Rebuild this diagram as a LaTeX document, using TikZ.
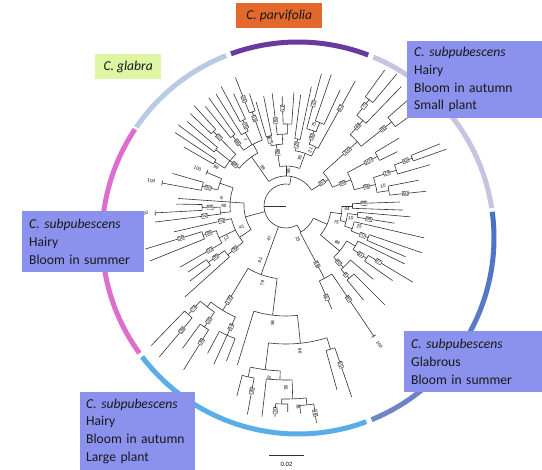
\documentclass[tikz,border=0pt]{standalone}
\usepackage{fontspec}
\setmainfont{Carlito}
\newfontfamily\numfont{Liberation Sans}
\definecolor{boxblue}{RGB}{139,146,238}
\definecolor{boxorange}{RGB}{226,104,44}
\definecolor{boxgreen}{RGB}{222,245,164}
\definecolor{ringpurple}{RGB}{104,58,160}
\definecolor{ringlav}{RGB}{200,196,224}
\definecolor{ringblueA}{RGB}{72,114,198}
\definecolor{ringblueB}{RGB}{112,134,196}
\definecolor{ringsky}{RGB}{90,174,232}
\definecolor{ringpink}{RGB}{222,110,206}
\definecolor{ringgrey}{RGB}{184,202,228}
\newcounter{lc}
\newcommand\tbr[3]{\draw[tree] (#1:#2pt) -- (#1:#3pt);}
\newcommand\tarc[3]{\draw[tree] (#2:#1pt) arc[start angle=#2,end angle=#3,radius=#1pt];}
\newcommand\tbar[2]{\draw[tree] (#1:#2pt) ++(#1+90:2.5pt) -- ++(#1-90:5pt);}
\newcommand\tlab[4][bsb]{\stepcounter{lc}\pgfmathsetmacro\labrot{cos(#2)<0 ? #2+180 : #2}\node[#1,rotate=\labrot] (bs\arabic{lc}) at (#2:#3pt) {#4};}
\newcommand\ringseg[4]{\draw[line width=5pt,color=#4] (#1:#3pt) arc[start angle=#1,end angle=#2,radius=#3pt];}
\tikzset{
  tree/.style={line width=0.6pt,draw=black!80},
  bsb/.style={draw=black!80,line width=0.35pt,fill=white,inner sep=0.5pt,font=\numfont\fontsize{4.6}{4.6}\selectfont},
  bsn/.style={inner sep=0.3pt,font=\numfont\fontsize{4.6}{4.6}\selectfont},
  lbox/.style={anchor=north west,inner xsep=7pt,inner ysep=0pt,align=left,font=\fontsize{13.6}{17.7}\selectfont,text=black!90},
  tbox/.style={anchor=north west,inner sep=0pt,align=center,font=\fontsize{13.6}{17}\selectfont\itshape,text=black!90}
}
\begin{document}
\begin{tikzpicture}[x=1pt,y=1pt]
\fill[white] (0,0) rectangle (542,-470);
\useasboundingbox (0,0) rectangle (542,-470);
% outer ring
\begin{scope}[shift={(298,-238)}]
\coordinate (ringc) at (0,0);
\ringseg{69}{110}{196}{ringpurple}
\ringseg{8.8}{67.4}{196}{ringlav}
\foreach \i in {0,...,14}{
  \pgfmathsetmacro\aa{7.7-\i*5.04}
  \pgfmathsetmacro\ab{\aa-5.1}
  \pgfmathtruncatemacro\pp{100-\i*100/14}
  \ringseg{\aa}{\ab}{196}{ringblueA!\pp!ringblueB}
}
\ringseg{-69.6}{-142.7}{196}{ringsky}
\ringseg{-144}{-213.7}{196}{ringpink}
\ringseg{111.5}{145.6}{196}{ringgrey}
\end{scope}
% tree
\begin{scope}[shift={(286,-206)}]
\coordinate (root) at (0,0);
\tbr{180}{0}{22}
\tarc{22}{80}{300}
% ---- top
\tbr{80}{22}{30}
\tarc{30}{32}{125}
\tlab[bsn]{86}{35}{85}
% upper left group
\tbr{125}{30}{60}
\tlab[bsn]{121}{45}{99}
\tarc{60}{118}{141}
\tbr{118}{60}{70}
\tarc{70}{109.75}{127.25}
\tbr{109.75}{70}{100}\tlab{109.75}{93}{58}
\tarc{100}{108}{111.5}
\tbr{111.5}{100}{138}\tlab{111.5}{115}{24}
\tbr{108}{100}{118}
\tbr{119}{70}{84}\tlab[bsn]{121.5}{78}{7}
\tarc{84}{116.75}{122}
\tbr{122}{84}{132}
\tbr{116.75}{84}{96}\tlab{116.75}{90}{76}
\tarc{96}{115}{118.5}
\tbr{118.5}{96}{136}
\tbr{115}{96}{124}
\tbr{127.25}{70}{88}\tlab{127.25}{80}{86}
\tarc{88}{125.5}{129}
\tbr{125.5}{88}{133}
\tbr{129}{88}{128}
\tbr{141}{60}{72}\tlab{141}{66}{69}
\tarc{72}{134.25}{148.25}
\tbr{134.25}{72}{104}\tlab{134.25}{96}{33}
\tarc{104}{132.5}{136}
\tbr{132.5}{104}{136}
\tbr{136}{104}{133}
\tbr{141.25}{72}{90}
\tarc{90}{139.5}{143}
\tbr{139.5}{90}{130}
\tbr{143}{90}{135}
\tbr{148.25}{72}{84}\tlab[bsn]{151}{80}{99}
\tarc{84}{146.5}{150}
\tbr{146.5}{84}{133}
\tbr{150}{84}{118}
% middle group
\tbr{90}{30}{40}
\tarc{40}{70}{99}
\tbr{99}{40}{62}\tlab{99}{54}{92}
\tarc{62}{93}{103.75}
\tbr{103.75}{62}{72}\tlab{103.75}{68}{67}
\tarc{72}{101.5}{106}
\tbr{106}{72}{108}
\tbr{101.5}{72}{112}
\tbr{93}{62}{72}
\tarc{72}{89}{97}
\tbr{97}{72}{114}\tlab{97}{86}{24}
\tbr{89}{72}{82}
\tarc{82}{86}{92}
\tbr{92}{82}{110}\tlab{92}{98}{47}
\tbr{86}{82}{114}
% right part of top
\tbr{70}{40}{56}\tlab[bsn]{74}{50}{93}
\tarc{56}{63}{80.25}
\tbr{80.25}{56}{68}\tlab{80.25}{62}{23}
\tarc{68}{78}{82.5}
\tbr{82.5}{68}{112}
\tbr{78}{68}{122}
\tbr{63}{56}{66}\tlab[bsn]{66.5}{61}{21}
\tarc{66}{61}{69.5}
\tbr{69.5}{66}{80}\tlab{69.5}{74}{92}
\tarc{80}{68}{75}
\tbr{75}{80}{137}\tlab{75}{106}{72}
\tbr{68}{80}{90}\tlab[bsn]{71}{86}{75}
\tarc{90}{65}{71}
\tbr{71}{90}{139}
\tbr{65}{90}{128}
\tbr{61}{66}{143}\tlab{61}{112}{62}
% ---- "83" clade
\tbr{32}{30}{50}\tlab{33}{43}{83}
\tarc{50}{22}{42}
\tbr{42}{50}{96}\tlab{42}{82}{100}
\tarc{96}{38.5}{48}
\tbr{48}{96}{115}\tlab{48}{107}{48}
\tarc{115}{46}{52}
\tbr{52}{115}{135}\tlab{52}{127}{70}
\tarc{135}{50}{54}
\tbr{54}{135}{168}
\tbr{50}{135}{172}
\tbr{46}{115}{166}
\tbr{38.5}{96}{135}\tlab{38.5}{124}{65}
\tarc{135}{36}{41}
\tbr{41}{135}{170}
\tbr{36}{135}{168}
\tbr{22}{50}{70}\tlab{22}{61}{99}
\tarc{70}{13.5}{28.5}
\tbr{28.5}{70}{104}\tlab{28.5}{94}{100}
\tarc{104}{26}{31}
\tbr{31}{104}{132}
\tbr{26}{104}{124}
\tbr{13.5}{70}{92}\tlab{13.5}{83}{96}
\tarc{92}{8.5}{18}
\tbr{18}{92}{116}\tlab{18}{106}{19}
\tarc{116}{16}{20.75}
\tbr{20.75}{116}{135}\tlab{20.75}{128}{40}
\tarc{135}{19.5}{22}
\tbr{22}{135}{166}
\tbr{19.5}{135}{170}
\tbr{16}{116}{150}
\tbr{8.5}{92}{104}\tlab[bsn]{11.5}{99}{10}
\tarc{104}{6}{11}
\tbr{11}{104}{135}
\tbr{6}{104}{141}\tlab{6}{120}{50}
% ---- right "23" clade
\tbr{300}{22}{30}
\tarc{30}{-62}{-24}
\tlab[bsn]{-70}{35}{23}
\tbr{-24}{30}{45}\tlab[bsn]{-18}{53}{75}
\tarc{45}{-40}{-8}
\tbr{-8}{45}{56}\tlab[bsn]{-3}{61}{44}
\tarc{56}{-15}{0}
\tbr{0}{56}{66}
\tarc{66}{-2}{2}
\tbr{2}{66}{114}\tlab{2}{78}{88}
\tbr{-2}{66}{117}
\tbr{-15}{56}{62}\tlab[bsn]{-10.5}{66}{10}
\tarc{62}{-19}{-7}
\tbr{-7}{62}{72}
\tarc{72}{-9}{-5}
\tbr{-5}{72}{125}
\tbr{-9}{72}{110}\tlab{-9}{84}{98}
\tbr{-19}{62}{70}\tlab[bsn]{-15.5}{76}{25}
\tarc{70}{-21}{-13}
\tbr{-13}{70}{142}
\tbr{-21}{70}{88}\tlab{-21}{82}{70}
\tarc{88}{-23}{-19}
\tbr{-19}{88}{144}
\tbr{-23}{88}{130}
\tbr{-40}{45}{70}\tlab[bsn]{-35.5}{63}{69}
\tarc{70}{-47}{-30}
\tbr{-30}{70}{80}
\tarc{80}{-33}{-26}
\tbr{-26}{80}{132}
\tbr{-33}{80}{96}\tlab{-33}{89}{31}
\tarc{96}{-35}{-31}
\tbr{-31}{96}{148}\tlab{-31}{108}{27}
\tbr{-35}{96}{130}
\tbr{-47}{70}{84}\tlab{-47}{77}{40}
\tarc{84}{-49}{-40}
\tbr{-40}{84}{114}
\tbr{-49}{84}{96}\tlab{-49}{91}{4}
\tarc{96}{-50.5}{-45}
\tbr{-45}{96}{140}
\tbr{-50.5}{96}{122}
\tbr{-62}{30}{82}\tlab{-62}{66}{98}
\tarc{82}{-66}{-56}
\tbr{-66}{82}{113}\tlab{-66}{100}{92}
\tbr{-56}{82}{157}\tlab{-56}{112}{90}
\tbar{-56}{157}
\tlab[bsn]{-56}{167}{100}
% ---- left clade
\tbr{195}{22}{42}
\tarc{42}{176}{214}
\tlab[bsn]{205}{49}{41}
\tbr{176}{42}{56}\tlab[bsn]{179.5}{62}{90}
\tarc{56}{161}{186}
\tbr{161}{56}{70}
\tarc{70}{157}{166.75}
\tbr{157}{70}{86}\tbar{157}{86}\tlab[bsn]{157}{96}{100}
\tbr{166.75}{70}{86}\tlab{166.75}{80}{50}
\tarc{86}{164}{169.5}
\tbr{164}{86}{118}
\tbr{169.5}{86}{126}\tbar{169.5}{126}\tlab[bsn]{169.5}{137}{100}
\tbr{176}{56}{108}\tlab[bsn]{173.2}{65}{8}
\tbr{186}{56}{66}
\tarc{66}{181}{187}
\tbr{181}{66}{84}\tlab{181}{76}{65}
\tarc{84}{179}{183}
\tbr{179}{84}{110}
\tbr{183}{84}{131}\tbar{183}{131}\tlab[bsn]{183}{142}{100}
\tbr{187}{66}{132}\tlab{187}{82}{52}
\tbr{214}{42}{56}
\tarc{56}{193}{220}
\tbr{193}{56}{115}\tlab{193}{66}{53}
\tbr{205.5}{56}{74}\tlab[bsn]{208.5}{68}{13}
\tarc{74}{199.5}{210}
\tbr{199.5}{74}{88}\tlab{199.5}{82}{36}
\tarc{88}{197}{202}
\tbr{197}{88}{147}\tlab{197}{110}{56}
\tbr{202}{88}{147}
\tbr{210}{74}{122}\tlab{210}{88}{53}
\tbr{220}{56}{76}\tlab{220}{67}{56}
\tarc{76}{216}{222}
\tbr{216}{76}{96}\tlab{216}{87}{85}
\tarc{96}{214}{218}
\tbr{214}{96}{118}
\tbr{218}{96}{122}
\tbr{222}{76}{136}
% ---- bottom clade
\tbr{250}{22}{73}
\tlab[bsn]{243}{37}{47}
\tlab[bsn]{244.5}{60}{61}
\tarc{73}{238.75}{263}
\tlab[bsn]{253}{81}{79}
\tbr{238.75}{73}{122}\tlab{238.75}{110}{100}
\tarc{122}{232}{245.5}
\tbr{245.5}{122}{142}\tlab{245.5}{133}{94}
\tarc{142}{242}{249}
\tbr{242}{142}{167}
\tbr{245.5}{142}{174}
\tbr{249}{142}{166}
\tbr{232}{122}{128}
\tarc{128}{228}{236}
\tbr{236}{128}{146}\tlab{236}{138}{30}
\tarc{146}{234}{238}
\tbr{234}{146}{176}
\tbr{238}{146}{193}\tlab{238}{160}{39}
\tbr{228}{128}{146}\tlab{228}{138}{74}
\tarc{146}{226}{230}
\tbr{226}{146}{194}
\tbr{230}{146}{197}\tlab{230}{162}{36}
\tbr{263}{73}{110}
\tarc{110}{253}{276}
\tlab[bsn]{263.5}{118}{98}
\tbr{253}{110}{166}
\tbr{276}{110}{138}
\tarc{138}{262.75}{287.25}
\tlab[bsn]{275.5}{146}{96}
\tbr{287.25}{138}{150}
\tarc{150}{285.5}{289}
\tbr{285.5}{150}{191}
\tbr{289}{150}{202}\tlab{289}{168}{55}
\tbr{262.75}{138}{165}
\tarc{165}{257.5}{268}
\tlab[bsn]{264.5}{173}{37}
\tbr{257.5}{165}{175}
\tarc{175}{255.5}{259.5}
\tbr{255.5}{175}{196}
\tbr{259.5}{175}{212}\tlab{259.5}{188}{39}
\tbr{268}{165}{174}
\tarc{174}{263.5}{272}
\tlab[bsn]{270}{182}{85}
\tbr{263.5}{174}{212}
\tbr{272}{174}{193}
\tarc{193}{268.75}{276}
\tlab[bsn]{273.5}{201}{38}
\tbr{268.75}{193}{198}
\tarc{198}{267}{270.5}
\tbr{267}{198}{211}\tlab{267}{205}{30}
\tbr{270.5}{198}{206}
\tbr{276}{193}{200}
\tarc{200}{274}{278}
\tbr{274}{200}{208}
\tbr{278}{200}{219}\tlab{278}{209}{48}
\end{scope}
% scale bar
\coordinate (sb1) at (269,-455);
\coordinate (sb2) at (304,-455);
\draw[line width=0.6pt,black!80] (sb1) -- (sb2);
\node[font=\numfont\fontsize{6}{6}\selectfont,inner sep=0pt] (sbl) at (286.5,-464) {0.02};
% label boxes
\node[tbox,fill=boxorange,minimum width=86pt,minimum height=25pt] (parv) at (236,-3) {C. parvifolia};
\node[tbox,fill=boxgreen,minimum width=66pt,minimum height=25pt] (glab) at (95,-54) {C. glabra};
\node[lbox,fill=boxblue,minimum width=135pt,minimum height=77pt,text width=121pt] (sub1) at (407,-41) {\textit{C. subpubescens}\\Hairy\\Bloom in autumn\\Small plant};
\node[lbox,fill=boxblue,minimum width=122pt,minimum height=61pt,text width=108pt] (sub2) at (22,-211) {\textit{C. subpubescens}\\Hairy\\Bloom in summer};
\node[lbox,fill=boxblue,minimum width=138pt,minimum height=61pt,text width=124pt] (sub3) at (404,-331) {\textit{C. subpubescens}\\Glabrous\\Bloom in summer};
\node[lbox,fill=boxblue,inner xsep=6pt,minimum width=115pt,minimum height=78pt,text width=103pt] (sub4) at (80,-392) {\textit{C. subpubescens}\\Hairy\\Bloom in autumn\\Large plant};
\end{tikzpicture}
\end{document}
